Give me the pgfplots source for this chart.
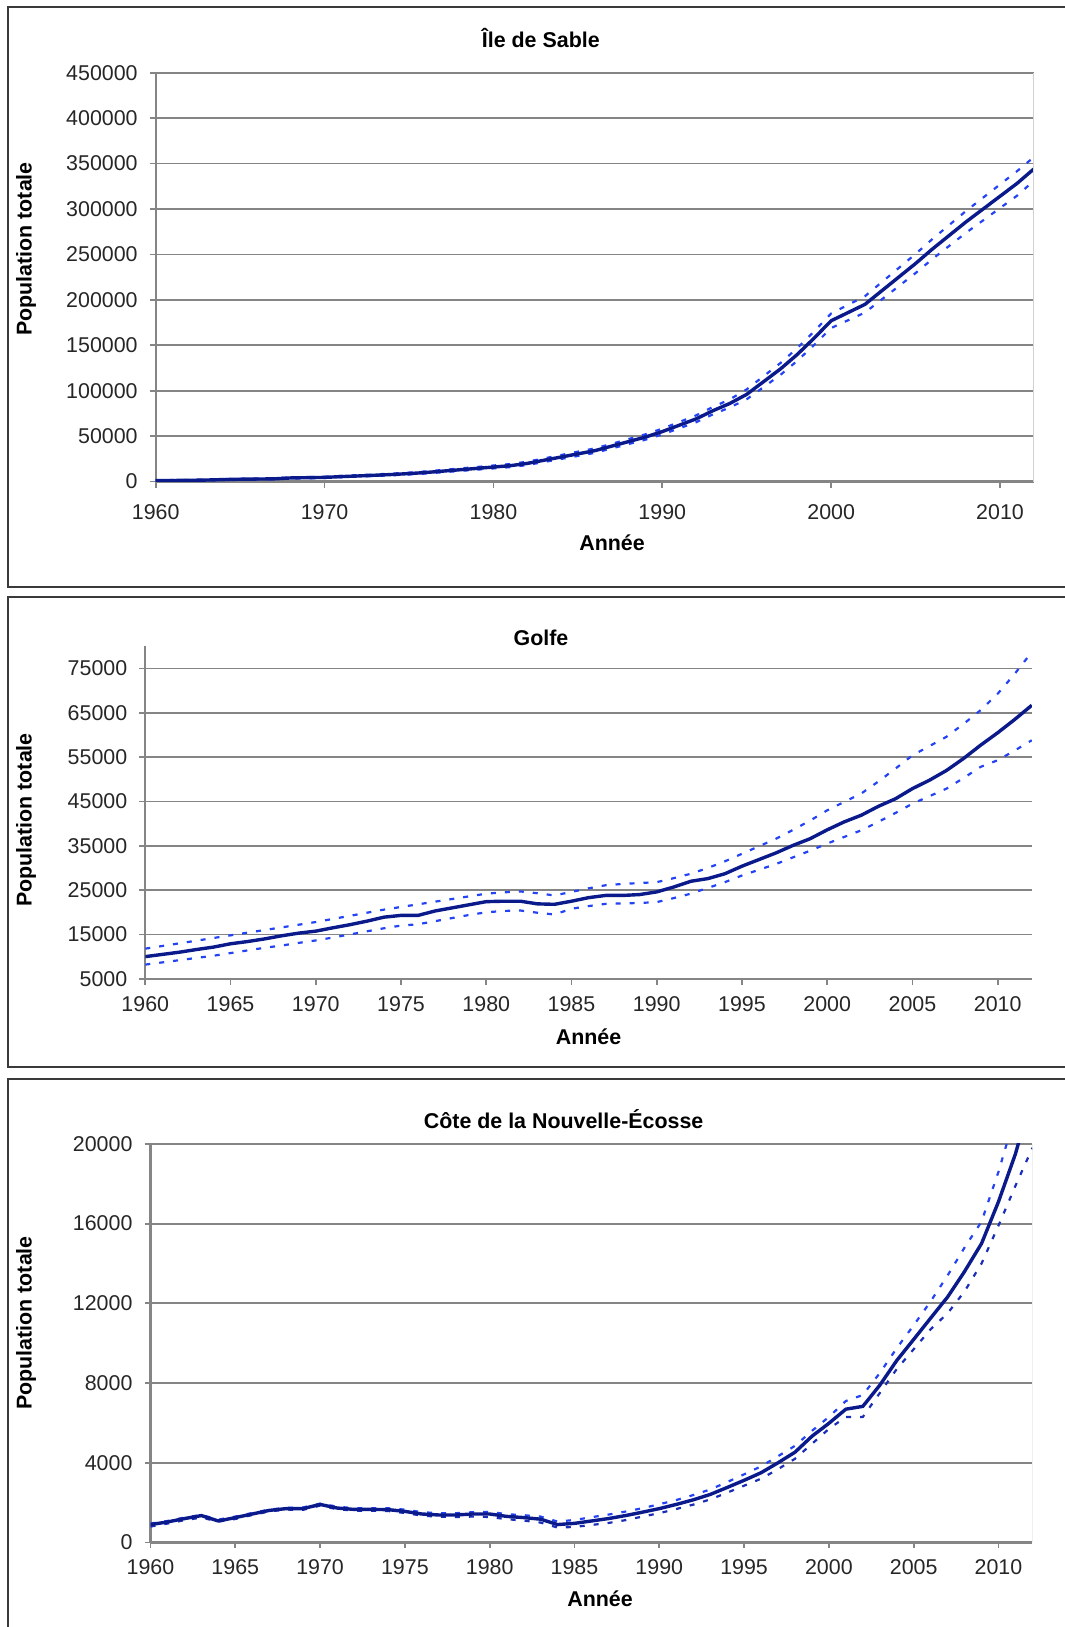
\documentclass[border=0pt]{standalone}
\usepackage{pgfplots}
\pgfplotsset{compat=1.18}
\usepackage{fontspec}
\setmainfont{Liberation Sans}
\definecolor{mainc}{HTML}{0B1A8A}
\definecolor{bandc}{HTML}{2443F5}
\definecolor{bandd}{HTML}{1A2DB8}
\definecolor{gridc}{HTML}{858585}
\definecolor{boxc}{HTML}{3A3A3A}
\pgfplotsset{
  popstyle/.style={
    scale only axis,
    anchor=south west,
    axis x line=bottom, axis y line=left,
    axis line style={-, draw=gridc, line width=1.1pt},
    x axis line style={-}, y axis line style={-},
    tick align=outside,
    major tick length=3pt,
    tick style={draw=gridc, line width=0.9pt},
    ymajorgrids, grid style={draw=gridc, line width=0.9pt},
    xmin=1960, xmax=2012,
    scaled ticks=false,
    /pgf/number format/assume math mode=true,
    ticklabel style={font=\fontsize{10.7}{12}\selectfont, text=black!85},
    xticklabel style={/pgf/number format/1000 sep={}},
    yticklabel style={/pgf/number format/fixed, /pgf/number format/1000 sep={}, xshift=-2.5pt},
  },
  mainl/.style={mainc, line width=1.7pt, no markers},
  bandl/.style={bandc, line width=1.1pt, dash pattern=on 2.5pt off 4.5pt, no markers},
}
\pgfplotstableread{
year main upper lower
1960 1000 1500 700
1961 1200 1700 900
1962 1400 1900 1100
1963 1700 2200 1300
1964 2200 2800 1700
1965 2600 3200 2100
1966 2800 3400 2300
1967 3000 3700 2500
1968 4000 4700 3400
1969 4300 5000 3700
1970 4600 5400 4000
1971 5500 6300 4800
1972 6200 7100 5400
1973 7000 7900 6200
1974 7800 8800 6900
1975 8800 9900 7800
1976 10000 11200 8900
1977 11500 12800 10300
1978 13000 14400 11700
1979 14500 16000 13100
1980 16000 17700 14500
1981 17500 19300 15900
1982 20000 21900 18200
1983 23500 25500 21600
1984 27000 29200 24900
1985 30500 32900 28200
1986 34000 36500 31600
1987 39000 41500 36500
1988 44000 46800 41300
1989 49000 52000 46100
1990 55000 58200 51900
1991 62000 65500 58600
1992 69000 72800 65300
1993 78000 82100 74000
1994 86000 90500 81600
1995 96000 101500 90600
1996 110000 116000 104000
1997 124000 130500 117500
1998 140000 147000 133000
1999 158000 165500 150500
2000 177000 185000 169000
2001 186000 194500 177500
2002 195000 204000 186000
2003 210000 219500 200500
2004 225000 235000 215000
2005 240000 250500 229500
2006 256000 267000 245000
2007 271000 282500 259500
2008 286000 298000 274000
2009 300000 312500 287500
2010 314000 327000 301000
2011 328000 341500 314500
2012 344000 357000 331000
}\sable
\pgfplotstableread{
year main upper lower
1960 10000 11800 8200
1961 10500 12400 8700
1962 11000 13000 9200
1963 11600 13600 9700
1964 12150 14200 10200
1965 12900 14800 10800
1966 13400 15400 11400
1967 14000 16000 12000
1968 14700 16600 12500
1969 15300 17200 13100
1970 15750 17800 13650
1971 16500 18500 14300
1972 17200 19200 15000
1973 18000 19900 15700
1974 18900 20600 16400
1975 19300 21200 17000
1976 19300 21800 17300
1977 20300 22400 18000
1978 21000 23000 18700
1979 21700 23600 19400
1980 22400 24200 20000
1981 22500 24500 20300
1982 22500 24700 20400
1983 21900 24300 19900
1984 21800 23800 19500
1985 22500 24600 20800
1986 23300 25400 21400
1987 23800 26100 21900
1988 23800 26400 22000
1989 24000 26600 22100
1990 24600 26800 22300
1991 25700 27700 23200
1992 27000 28700 24200
1993 27600 30000 25500
1994 28700 31500 26800
1995 30400 33200 28300
1996 31900 34900 29600
1997 33400 36600 30900
1998 35100 38600 32400
1999 36600 40700 33900
2000 38600 43000 35500
2001 40400 44900 37000
2002 41900 46800 38500
2003 43900 49500 40400
2004 45600 52400 42400
2005 47900 55400 44500
2006 49800 57500 46200
2007 52000 59600 47900
2008 54700 62500 50300
2009 57700 65600 52800
2010 60500 69300 54300
2011 63500 73800 56500
2012 66700 78700 58800
}\golfe
\pgfplotstableread{
year main upper lower
1960 900 950 800
1961 1030 1080 950
1962 1200 1250 1120
1963 1350 1380 1250
1964 1080 1150 1050
1965 1250 1300 1180
1966 1430 1480 1380
1967 1610 1650 1560
1968 1700 1740 1650
1969 1700 1760 1640
1970 1910 1950 1850
1971 1730 1800 1670
1972 1660 1720 1600
1973 1660 1720 1590
1974 1650 1720 1580
1975 1560 1650 1480
1976 1430 1520 1350
1977 1380 1470 1290
1978 1380 1470 1280
1979 1430 1520 1300
1980 1430 1540 1280
1981 1310 1420 1170
1982 1250 1370 1100
1983 1170 1300 1000
1984 900 1050 750
1985 960 1130 780
1986 1080 1270 880
1987 1200 1400 980
1988 1350 1550 1120
1989 1520 1720 1300
1990 1700 1920 1470
1991 1910 2130 1680
1992 2140 2380 1900
1993 2410 2660 2160
1994 2760 3030 2500
1995 3120 3420 2850
1996 3500 3820 3200
1997 4000 4330 3680
1998 4530 4850 4200
1999 5330 5600 4950
2000 5980 6300 5700
2001 6690 7100 6300
2002 6830 7400 6300
2003 7890 8500 7500
2004 9130 9750 8700
2005 10190 10900 9700
2006 11260 12100 10700
2007 12320 13400 11500
2008 13600 14800 12600
2009 15000 16100 14000
2010 17100 18600 15900
2011 19500 21500 17900
2012 22500 24500 19800
}\cote
\begin{document}
\begin{tikzpicture}
\path[use as bounding box] (0,0) rectangle (532.5pt,813.5pt);
\draw[boxc, line width=1pt] (4.15pt,809.85pt) rectangle (545pt,519.75pt);
\draw[boxc, line width=1pt] (4.15pt,515.05pt) rectangle (545pt,280pt);
\draw[boxc, line width=1pt] (4.15pt,273.75pt) rectangle (545pt,-5pt);

% Panel 1
\begin{axis}[popstyle,
  at={(77.85pt,572.7pt)}, width=439.05pt, height=204.45pt,
  ymin=0, ymax=450000,
  ytick={0,50000,...,450000},
  xtick={1960,1970,...,2010},
  xticklabel style={yshift=-5pt}]
\addplot[bandl] table[x=year,y=upper] {\sable};
\addplot[bandl] table[x=year,y=lower] {\sable};
\addplot[mainl] table[x=year,y=main] {\sable};
\draw[gray!35, line width=0.8pt] (axis cs:2012,0) -- (axis cs:2012,450000);
\end{axis}
\node[font=\fontsize{10.7}{12}\selectfont\bfseries] at (270.4pt,794.3pt) {Île de Sable};
\node[font=\fontsize{10.7}{12}\selectfont\bfseries] at (306pt,542pt) {Année};
\node[font=\fontsize{10.7}{12}\selectfont\bfseries, rotate=90] at (13pt,689pt) {Population totale};

% Panel 2
\begin{axis}[popstyle,
  at={(72.65pt,324.1pt)}, width=443.25pt, height=166.25pt,
  ymin=5000, ymax=80000,
  ytick={5000,15000,...,75000},
  xtick={1960,1965,...,2010},
  xticklabel style={yshift=-2.5pt}]
\addplot[bandl] table[x=year,y=upper] {\golfe};
\addplot[bandl] table[x=year,y=lower] {\golfe};
\addplot[mainl] table[x=year,y=main] {\golfe};
\end{axis}
\node[font=\fontsize{10.7}{12}\selectfont\bfseries] at (270.5pt,494.5pt) {Golfe};
\node[font=\fontsize{10.7}{12}\selectfont\bfseries] at (294.25pt,295pt) {Année};
\node[font=\fontsize{10.7}{12}\selectfont\bfseries, rotate=90] at (13pt,403.5pt) {Population totale};

% Panel 3
\begin{axis}[popstyle,
  at={(75.25pt,42.25pt)}, width=440.95pt, height=199.3pt,
  ymin=0, ymax=20000,
  ytick={0,4000,...,20000},
  xtick={1960,1965,...,2010},
  xticklabel style={yshift=-2pt}]
\addplot[bandl] table[x=year,y=upper] {\cote};
\addplot[bandl, bandd] table[x=year,y=lower] {\cote};
\addplot[mainl] table[x=year,y=main] {\cote};
\draw[gray!35, line width=0.8pt] (axis cs:2012,0) -- (axis cs:2012,20000);
\end{axis}
\node[font=\fontsize{10.7}{12}\selectfont\bfseries] at (281.8pt,254pt) {Côte de la Nouvelle-Écosse};
\node[font=\fontsize{10.7}{12}\selectfont\bfseries] at (300pt,14.25pt) {Année};
\node[font=\fontsize{10.7}{12}\selectfont\bfseries, rotate=90] at (13pt,152pt) {Population totale};
\end{tikzpicture}
\end{document}
